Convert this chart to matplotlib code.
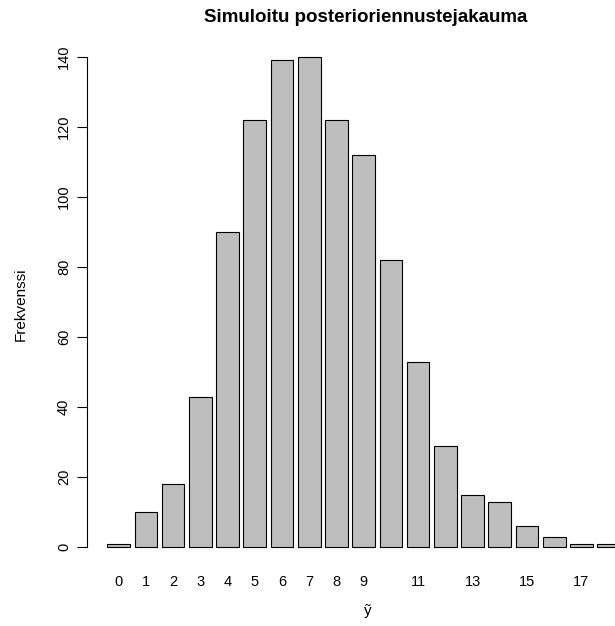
import numpy as np
import matplotlib.pyplot as plt

plt.rcParams['font.family'] = ['Liberation Sans', 'DejaVu Sans']

# Simulated posterior predictive counts
values = np.arange(19)
freq = [1, 10, 18, 43, 90, 122, 139, 140, 122, 112, 82, 53, 29, 15, 13, 6, 3, 1, 1]
shown_labels = [0, 1, 2, 3, 4, 5, 6, 7, 8, 9, 11, 13, 15, 17]
yticks = [0, 20, 40, 60, 80, 100, 120, 140]

W, H = 615, 626
fig = plt.figure(figsize=(W / 100, H / 100), dpi=100)

# plot region in pixels (left spine at 87, y=-5.6 at 566.6, y=145.6 at 37.4)
left, right, top, bottom = 87, 615, 37.4, 566.6
ax = fig.add_axes([left / W, 1 - bottom / H, (right - left) / W, (bottom - top) / H])

ax.bar(values, freq, width=1 / 1.2, color='#bebebe', edgecolor='black', linewidth=0.8)

pitch = 27.22
x0 = 118.65
ax.set_xlim((left - x0) / pitch, (right - x0) / pitch)
ax.set_ylim(-5.6, 145.6)

for s in ['top', 'right', 'bottom']:
    ax.spines[s].set_visible(False)
ax.spines['left'].set_bounds(0, 140)
ax.spines['left'].set_linewidth(0.8)

ax.set_yticks(yticks)
ax.set_yticklabels([str(t) for t in yticks], rotation=90, va='center', fontsize=10.5)
ax.tick_params(axis='y', length=7.5, width=0.8, pad=4)

ax.set_xticks([])
for v in shown_labels:
    ax.text(v, -0.029, str(v), transform=ax.get_xaxis_transform(),
            ha='center', va='center', fontsize=10.5)

fig.text(368 / W, 1 - 611 / H, 'ỹ', ha='center', va='center', fontsize=11)
fig.text(21 / W, 1 - 304 / H, 'Frekvenssi', rotation=90, ha='center', va='center', fontsize=11)
fig.text(366 / W, 1 - 17 / H, 'Simuloitu posterioriennustejakauma',
         ha='center', va='center', fontsize=13.5, fontweight='bold')

fig.savefig('out.png', dpi=100)
